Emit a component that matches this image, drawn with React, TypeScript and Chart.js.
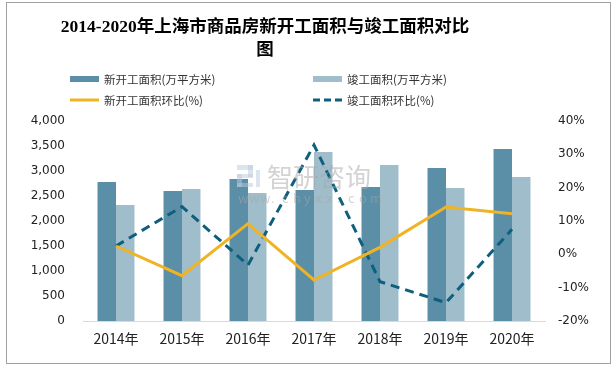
import React, { useEffect, useRef } from "react";
import { Chart, registerables } from "chart.js";

Chart.register(...registerables);

const categories = ["2014年", "2015年", "2016年", "2017年", "2018年", "2019年", "2020年"];
const newStartArea = [2780, 2600, 2840, 2620, 2680, 3060, 3440];
const completedArea = [2320, 2640, 2560, 3380, 3120, 2660, 2880];
const newStartRatio = [2.5, -6.4, 9.2, -7.7, 2.1, 14.2, 12.2];
const completedRatio = [2.5, 14.3, -3.2, 32.8, -8.2, -14.5, 7.5];

const titleLines = ["2014-2020年上海市商品房新开工面积与竣工面积对比", "图"];
const seriesLabels = ["新开工面积(万平方米)", "竣工面积(万平方米)", "新开工面积环比(%)", "竣工面积环比(%)"];

const DARK = "#5b8fa7";
const LIGHT = "#9fbdcb";
const YELLOW = "#f0b323";
const TEAL = "#0e5f7e";
const CJK = '"Noto Sans CJK SC", "Noto Sans", sans-serif';

const framePlugin = {
  id: "frame",
  beforeDraw(chart: any) {
    const ctx = chart.ctx;
    ctx.save();
    ctx.fillStyle = "#ffffff";
    ctx.fillRect(0, 0, chart.width, chart.height);
    ctx.strokeStyle = "#a0a0a0";
    ctx.lineWidth = 1;
    ctx.strokeRect(6.5, 2.5, 604, 361);
    ctx.restore();
  },
};

const titlePlugin = {
  id: "offsetTitle",
  afterDraw(chart: any) {
    const ctx = chart.ctx;
    ctx.save();
    ctx.fillStyle = "#000000";
    ctx.font = 'bold 17.5px "Liberation Serif", "Noto Sans CJK SC", serif';
    ctx.textAlign = "center";
    ctx.textBaseline = "middle";
    titleLines.forEach((t, i) => ctx.fillText(t, 265, 27 + i * 23));
    ctx.restore();
  },
};

const legendPlugin = {
  id: "gridLegend",
  afterDraw(chart: any) {
    const ctx = chart.ctx;
    const cols = [70, 313];
    const rows = [79, 100];
    const ds = chart.data.datasets;
    ctx.save();
    ctx.font = "11.5px " + CJK;
    ctx.textBaseline = "middle";
    ds.forEach((d: any, i: number) => {
      const x = cols[i % 2];
      const y = rows[Math.floor(i / 2)];
      if (d.type === "bar") {
        ctx.fillStyle = d.backgroundColor;
        ctx.fillRect(x, y - 3, 29, 6);
      } else {
        ctx.strokeStyle = d.borderColor;
        ctx.lineWidth = 3;
        ctx.setLineDash(d.borderDash && d.borderDash.length ? [7, 4] : []);
        ctx.beginPath();
        ctx.moveTo(x, y);
        ctx.lineTo(x + 29, y);
        ctx.stroke();
        ctx.setLineDash([]);
      }
      ctx.fillStyle = "#333333";
      ctx.fillText(d.label, x + 34, y + 1);
    });
    ctx.restore();
  },
};

const watermarkPlugin = {
  id: "watermark",
  afterDatasetsDraw(chart: any) {
    const ctx = chart.ctx;
    ctx.save();
    ctx.globalAlpha = 0.5;
    ctx.fillStyle = "#b9c9dc";
    ctx.fillRect(237, 165, 16, 5);
    ctx.fillRect(248, 165, 5, 12);
    ctx.fillRect(237, 174, 16, 4);
    ctx.fillRect(237, 174, 5, 13);
    ctx.fillRect(237, 183, 16, 4);
    ctx.fillRect(256, 170, 4, 17);
    ctx.fillStyle = "#a8a8a8";
    ctx.font = "26px " + CJK;
    ctx.textBaseline = "middle";
    ctx.fillText("智研咨询", 267, 177);
    ctx.font = "13px " + CJK;
    const s = "www.chyxx.com";
    for (let i = 0; i < s.length; i++) {
      ctx.fillText(s[i], 238 + i * 11, 198);
    }
    ctx.restore();
  },
};

export default function App() {
  const ref = useRef<HTMLCanvasElement>(null);
  useEffect(() => {
    if (!ref.current) return;
    const chart = new Chart(ref.current, {
      type: "bar",
      data: {
        labels: categories,
        datasets: [
          {
            type: "bar",
            label: seriesLabels[0],
            data: newStartArea,
            backgroundColor: DARK,
            yAxisID: "y",
            order: 2,
            categoryPercentage: 0.56,
            barPercentage: 1,
          },
          {
            type: "bar",
            label: seriesLabels[1],
            data: completedArea,
            backgroundColor: LIGHT,
            yAxisID: "y",
            order: 2,
            categoryPercentage: 0.56,
            barPercentage: 1,
          },
          {
            type: "line",
            label: seriesLabels[2],
            data: newStartRatio,
            borderColor: YELLOW,
            backgroundColor: YELLOW,
            borderWidth: 3,
            pointRadius: 0,
            tension: 0,
            yAxisID: "y1",
            order: 1,
          },
          {
            type: "line",
            label: seriesLabels[3],
            data: completedRatio,
            borderColor: TEAL,
            backgroundColor: TEAL,
            borderWidth: 3,
            borderDash: [9, 6],
            pointRadius: 0,
            tension: 0,
            yAxisID: "y1",
            order: 1,
          },
        ] as any,
      },
      options: {
        responsive: false,
        animation: false,
        layout: { padding: { top: 121, left: 0, right: 0, bottom: 0 } },
        plugins: {
          legend: { display: false },
          tooltip: { enabled: false },
          title: { display: false },
        },
        scales: {
          x: {
            grid: { display: false, drawTicks: false },
            border: { display: true, color: "#d9d9d9", width: 1 },
            ticks: { color: "#222222", font: { size: 14, family: CJK }, padding: 9, maxRotation: 0 },
            afterFit(scale: any) {
              scale.height = 46;
            },
          },
          y: {
            position: "left",
            min: 0,
            max: 4000,
            grid: { display: false, drawTicks: false },
            border: { display: false },
            ticks: {
              stepSize: 500,
              color: "#222222",
              font: { size: 12, family: '"DejaVu Sans", sans-serif' },
              padding: 18,
              callback: (v: any) => Number(v).toLocaleString("en-US"),
            },
            afterFit(scale: any) {
              scale.width = 83;
            },
          },
          y1: {
            position: "right",
            min: -20,
            max: 40,
            grid: { display: false, drawTicks: false },
            border: { display: false },
            ticks: {
              stepSize: 10,
              color: "#222222",
              font: { size: 12, family: '"DejaVu Sans", sans-serif' },
              padding: 13,
              callback: (v: any) => v + "%",
            },
            afterFit(scale: any) {
              scale.width = 68;
            },
          },
        },
      } as any,
      plugins: [framePlugin, watermarkPlugin, legendPlugin, titlePlugin],
    });
    return () => chart.destroy();
  }, []);
  return (
    <div style={{ position: "absolute", left: 0, top: 0, width: 613, height: 367 }}>
      <canvas ref={ref} width={613} height={367} />
    </div>
  );
}
